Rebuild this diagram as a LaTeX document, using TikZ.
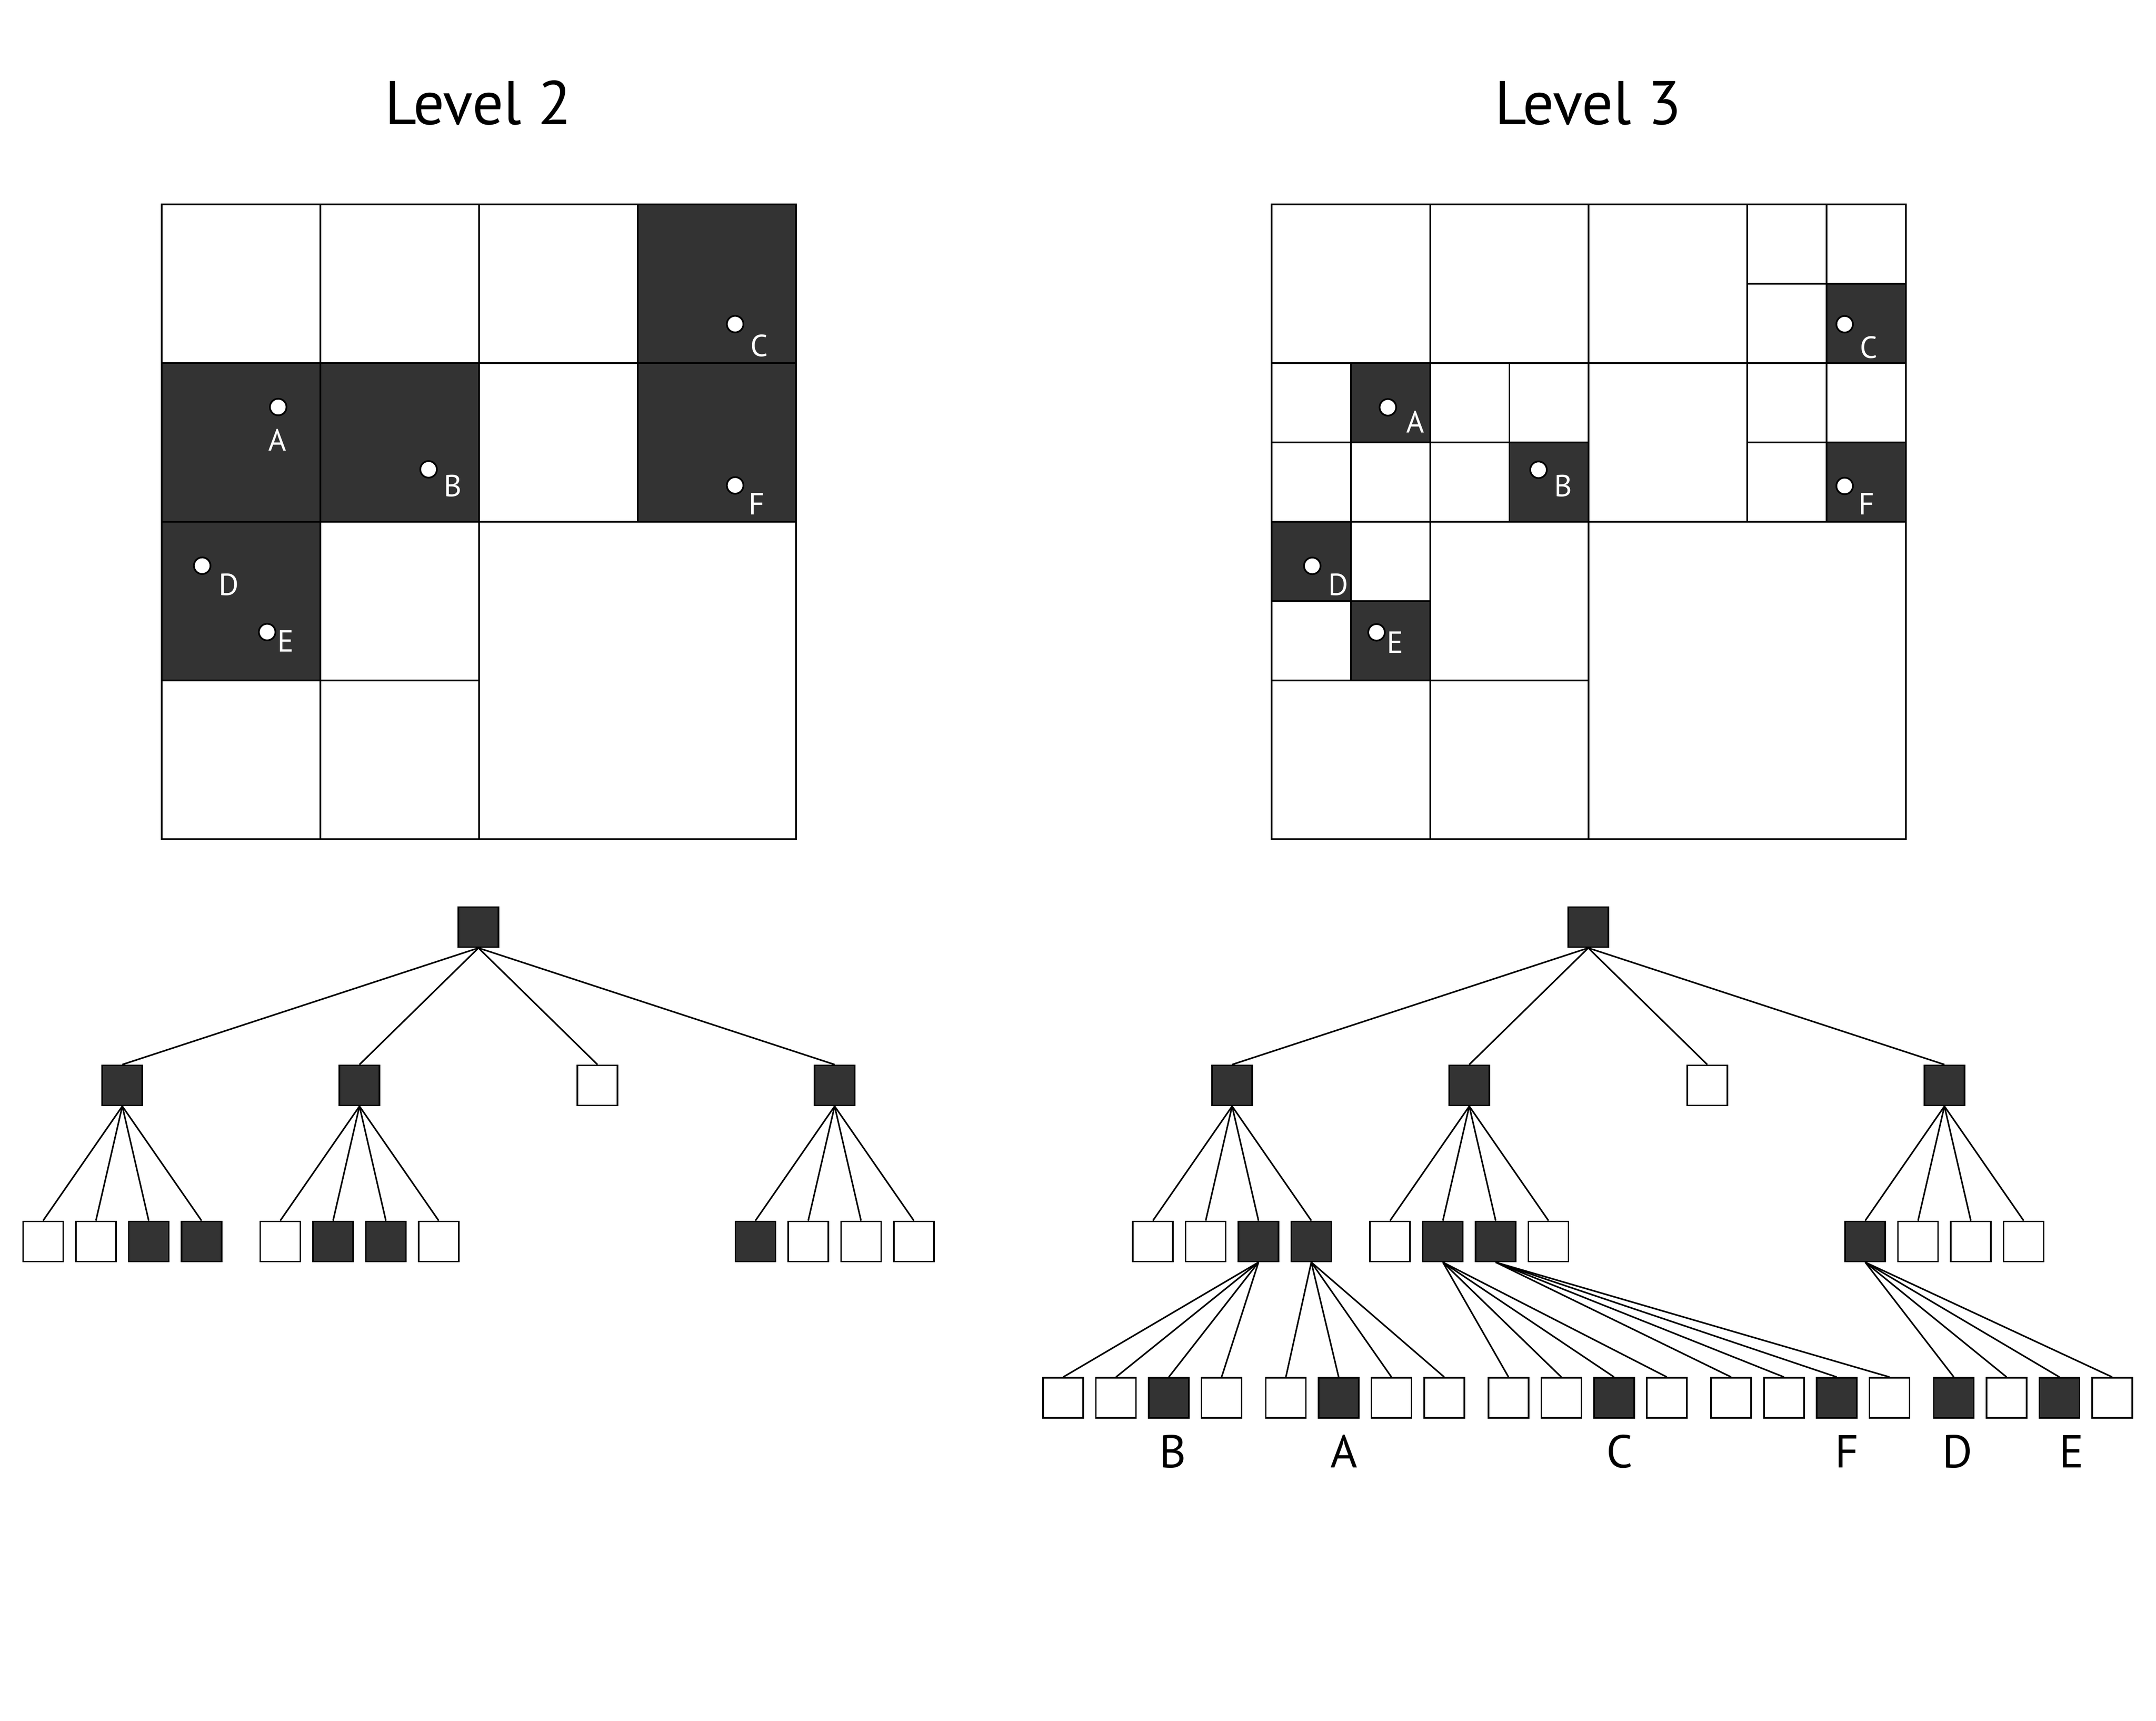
\documentclass[tikz,border=0pt]{standalone}
\usepackage{fontspec}
\setmainfont{PT Sans}
\definecolor{darkcell}{HTML}{333333}

\begin{document}
\begin{tikzpicture}[x=0.01cm, y=-0.01cm,
    grid/.style={line width=0.35pt},
    sq/.style={draw, line width=0.32pt, minimum size=0.29cm, inner sep=0pt},
    edge/.style={line width=0.32pt},
    pt/.style={circle, draw, fill=white, line width=0.35pt, minimum size=0.12cm, inner sep=0pt},
    ptlab/.style={text=white, inner sep=0pt, font=\fontsize{6.3}{8}\selectfont},
    leaflab/.style={anchor=base, inner sep=0pt, font=\fontsize{9.5}{11}\selectfont},
    title/.style={anchor=base, inner sep=0pt, font=\fontsize{12.7}{15}\selectfont}]
  \useasboundingbox (0,0) rectangle (1560,1245);

  \node[title] (title2) at (346,90) {Level 2};
  \node[title] (title3) at (1149,90) {Level 3};

  % level 2 grid (unit = one cell)
  \begin{scope}[shift={(117,148)}, x=1.147cm, y=-1.147cm]
    \foreach \c/\r in {3/0, 0/1, 1/1, 3/1, 0/2}
      \fill[darkcell] (\c,\r) rectangle ++(1,1);
    \draw[grid] (0,0) rectangle (4,4);
    \draw[grid] (1,0) -- (1,4) (2,0) -- (2,4) (3,0) -- (3,2)
                (0,1) -- (4,1) (0,2) -- (4,2) (0,3) -- (2,3);
  \end{scope}

  % level 3 grid (unit = half a cell)
  \begin{scope}[shift={(920,148)}, x=0.5735cm, y=-0.5735cm]
    \foreach \c/\r in {7/1, 1/2, 3/3, 7/3, 0/4, 1/5}
      \fill[darkcell] (\c,\r) rectangle ++(1,1);
    \draw[grid] (0,0) rectangle (8,8);
    \draw[grid] (2,0) -- (2,8) (4,0) -- (4,8) (6,0) -- (6,4)
                (0,2) -- (8,2) (0,4) -- (8,4) (0,6) -- (4,6);
    \draw[grid] (1,2) -- (1,6) (3,2) -- (3,4) (7,0) -- (7,4)
                (6,1) -- (8,1) (0,3) -- (4,3) (6,3) -- (8,3) (0,5) -- (2,5);
  \end{scope}

  % points
  \foreach \n/\x/\y/\lx/\ly in {A/201.3/294.5/200.7/318.2, B/310.1/339.6/327.8/351.6,
      C/531.9/234.5/549.2/250.2, F/531.9/351.2/547.5/364.6,
      D/146.3/409.3/165.6/423, E/193.3/457.3/206.6/463.7} {
    \node[pt] (dot2\n) at (\x,\y) {};
    \node[ptlab] (lab2\n) at (\lx,\ly) {\n};
  }
  \foreach \n/\x/\y/\lx/\ly in {A/1004.2/294.7/1024.1/305.1, B/1113.2/339.9/1131.2/351.6,
      C/1334.7/234.6/1352.1/251.4, F/1334.7/351.6/1350.5/364.5,
      D/949.5/409.4/968.5/423, E/996/457.5/1009.5/464.7} {
    \node[pt] (dot3\n) at (\x,\y) {};
    \node[ptlab] (lab3\n) at (\lx,\ly) {\n};
  }

  % level 2 tree
  \node[sq, fill=darkcell] (t2) at (346.2,670.8) {};
  \foreach \i/\x/\f in {1/88.5/darkcell, 2/260.1/darkcell, 3/432.3/white, 4/603.9/darkcell} {
    \node[sq, fill=\f] (t2-\i) at (\x,785.3) {};
    \draw[edge] (t2.south) -- (t2-\i.north);
  }
  \foreach \i/\x/\fills in {1/88.5/{white,white,darkcell,darkcell},
      2/260.1/{white,darkcell,darkcell,white}, 4/603.9/{darkcell,white,white,white}} {
    \foreach \f [count=\j] in \fills {
      \node[sq, fill=\f] (t2-\i-\j) at ({\x+38.2*\j-95.5},898.2) {};
      \draw[edge] (t2-\i.south) -- (t2-\i-\j.north);
    }
  }

  % level 3 tree
  \node[sq, fill=darkcell] (t3) at (1149.2,670.8) {};
  \foreach \i/\x/\f in {1/891.5/darkcell, 2/1063.1/darkcell, 3/1235.3/white, 4/1406.9/darkcell} {
    \node[sq, fill=\f] (t3-\i) at (\x,785.3) {};
    \draw[edge] (t3.south) -- (t3-\i.north);
  }
  \foreach \i/\x/\fills in {1/891.5/{white,white,darkcell,darkcell},
      2/1063.1/{white,darkcell,darkcell,white}, 4/1406.9/{darkcell,white,white,white}} {
    \foreach \f [count=\j] in \fills {
      \node[sq, fill=\f] (t3-\i-\j) at ({\x+38.2*\j-95.5},898.2) {};
      \draw[edge] (t3-\i.south) -- (t3-\i-\j.north);
    }
  }
  \foreach \p/\k/\fills in {1-3/0/{white,white,darkcell,white}, 1-4/1/{white,darkcell,white,white},
      2-2/2/{white,white,darkcell,white}, 2-3/3/{white,white,darkcell,white},
      4-1/4/{darkcell,white,darkcell,white}} {
    \foreach \f [count=\j] in \fills {
      \node[sq, fill=\f] (t3-\p-\j) at ({826.6+161.1*\k+38.2*\j-95.5},1011.4) {};
      \draw[edge] (t3-\p.south) -- (t3-\p-\j.north);
    }
  }

  % labels of the level 3 leaves
  \foreach \n/\x in {B/848.5, A/972.4, C/1171.9, F/1336.2, D/1416.2, E/1498.8}
    \node[leaflab] (leaf\n) at (\x,1061.9) {\n};
\end{tikzpicture}
\end{document}
